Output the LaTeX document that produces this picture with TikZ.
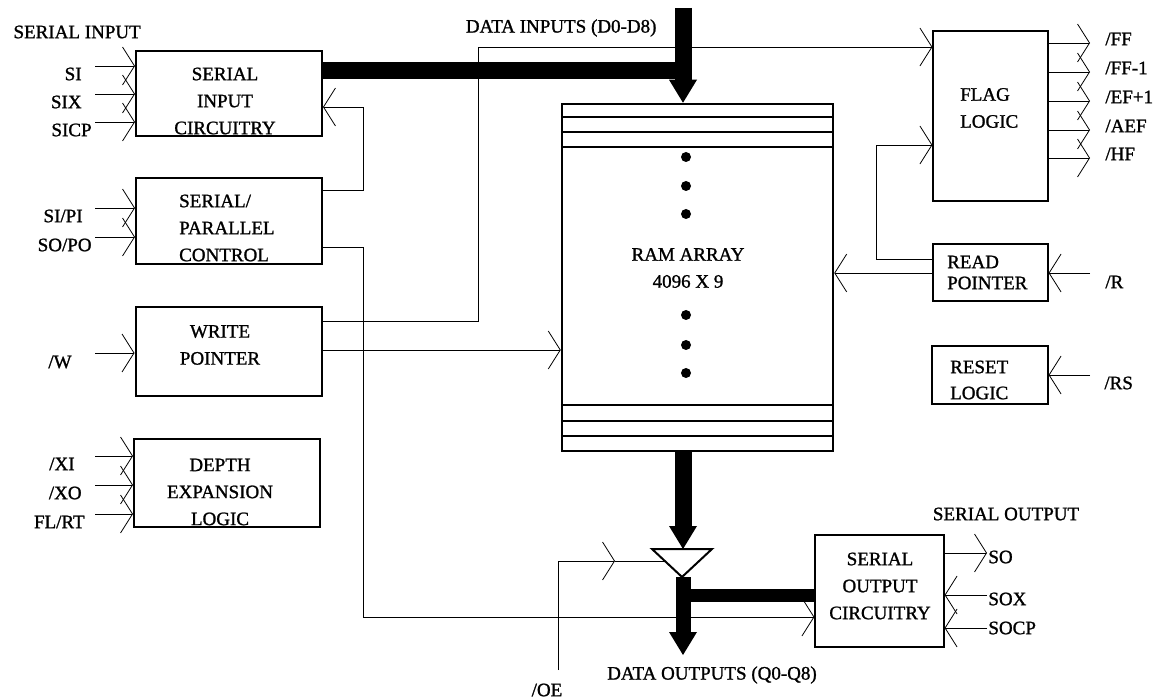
\documentclass[tikz,border=0pt]{standalone}
\usepackage{fontspec}
\setmainfont{Liberation Serif}[BoldFont=Liberation Serif,BoldFeatures={FakeBold=1.2}]
\usetikzlibrary{arrows.meta}

\begin{document}
\begin{tikzpicture}[x=1pt,y=-1pt,font=\fontsize{19}{27}\selectfont\bfseries,
  blk/.style={draw,line width=2pt,inner sep=0pt},
  fblk/.style={draw,line width=1.2pt,inner sep=0pt},
  txt/.style={align=center,inner sep=0pt},
  ltxt/.style={align=left,anchor=west,inner sep=0pt},
  plbl/.style={anchor=east,inner sep=0pt},
  wire/.style={draw,line width=0.8pt},
  pin/.style={wire,-{Straight Barb[length=12pt,width=38pt]}},
  bhead/.style={-{Triangle[length=23pt,width=28pt,line width=0pt]}}]
\useasboundingbox (0,0) rectangle (1160,700);

\node[blk,minimum width=186pt,minimum height=85pt] (sic) at (229,93.5) {};
\node[blk,minimum width=186pt,minimum height=86pt] (spc) at (229,221) {};
\node[blk,minimum width=186pt,minimum height=89pt] (wp) at (228.5,351.5) {};
\node[blk,minimum width=186pt,minimum height=88pt] (del) at (227,483) {};
\node[blk,line width=2.5pt,minimum width=271pt,minimum height=347pt] (ram) at (697.5,277.5) {};
\node[fblk,minimum width=115pt,minimum height=170pt] (flag) at (990.5,116) {};
\node[fblk,minimum width=115pt,minimum height=57pt] (rp) at (990.5,272.5) {};
\node[fblk,minimum width=116pt,minimum height=58pt] (rl) at (990,375) {};
\node[fblk,minimum width=129pt,minimum height=112pt] (soc) at (879.5,591) {};

\node[txt] (sicT) at (225,101) {SERIAL\\INPUT\\CIRCUITRY};
\node[ltxt] (spcT) at (179,228) {SERIAL/\\PARALLEL\\CONTROL};
\node[txt] (wpT) at (220,345) {WRITE\\POINTER};
\node[txt] (delT) at (220,492) {DEPTH\\EXPANSION\\LOGIC};
\node[txt] (ramT) at (688,268) {RAM ARRAY\\4096 X 9};
\node[ltxt] (flagT) at (960,108) {FLAG\\LOGIC};
\node[ltxt,font=\fontsize{19}{21}\selectfont\bfseries] (rpT) at (947,272.5) {READ\\POINTER};
\node[ltxt,font=\fontsize{19}{26}\selectfont\bfseries] (rlT) at (950,380) {RESET\\LOGIC};
\node[txt] (socT) at (880,586) {SERIAL\\OUTPUT\\CIRCUITRY};

\node[anchor=west] (serin) at (10,32) {SERIAL INPUT};
\node[anchor=east] (din) at (660,28) {DATA INPUTS (D0-D8)};
\node (serout) at (1006,514) {SERIAL OUTPUT};
\node (dout) at (712,675) {DATA OUTPUTS (Q0-Q8)};
\node (oe) at (547,690) {/OE};

\foreach \y/\ly/\ty in {117/132/147, 405/421/436}
  \foreach \r in {\y,\ly,\ty}
    \path[draw,line width=2.5pt] (ram.west |- 0,\r) -- (ram.east |- 0,\r);
\foreach \d in {157,186,214,315,345,373}
  \fill (686,\d) circle (5);

\foreach \y/\r/\t in {66/82/SI, 94/82/SIX, 122/92/SICP}
  \path[pin] (95,\y) -- (sic.west |- 0,\y) node[pos=0,plbl,xshift=\r pt-95pt,yshift=-8pt] {\t};
\foreach \y/\r/\t in {208/83/{SI/PI}, 237/92/{SO/PO}}
  \path[pin] (95,\y) -- (spc.west |- 0,\y) node[pos=0,plbl,xshift=\r pt-95pt,yshift=-8pt] {\t};
\path[pin] (95,353) -- (wp.west |- 0,353) node[pos=0,plbl,xshift=-23pt,yshift=-9pt] {/W};
\foreach \y/\r/\t in {456/75/{/XI}, 485/82/{/XO}, 514/85/{FL/RT}}
  \path[pin] (95,\y) -- (del.west |- 0,\y) node[pos=0,plbl,xshift=\r pt-95pt,yshift=-8pt] {\t};

\foreach \y/\t in {43/{/FF}, 72/{/FF-1}, 101/{/EF+1}, 130/{/AEF}, 158/{/HF}}
  \path[pin] (flag.east |- 0,\y) -- (1090,\y) node[anchor=west,inner sep=0pt,xshift=15pt,yshift=4pt] {\t};
\path[pin] (1090,273) node[anchor=west,inner sep=0pt,xshift=15pt,yshift=-9pt] {/R} -- (rp.east |- 0,273);
\path[pin] (1090,375) node[anchor=west,inner sep=0pt,xshift=14pt,yshift=-8pt] {/RS} -- (rl.east |- 0,375);
\path[pin] (soc.east |- 0,553) -- (987,553) node[anchor=west,inner sep=1pt,yshift=-4pt] {SO};
\path[pin] (987,595) node[anchor=west,inner sep=1pt,yshift=-4pt] {SOX} -- (soc.east |- 0,595);
\path[pin] (987,628) node[anchor=west,inner sep=1pt] {SOCP} -- (soc.east |- 0,628);

\path[pin] (spc.east |- 0,190) -- (363,190) |- (sic.east |- 0,107);
\path[pin] (spc.east |- 0,247) -- (363,247) |- (soc.west |- 0,617);
\path[pin] (wp.east |- 0,321) -| (478,47) -- (flag.west |- 0,47);
\path[pin] (wp.east |- 0,350) -- (ram.west |- 0,350);
\path[wire] (rp.west |- 0,259) -| (876,145);
\path[pin] (876,145) -- (flag.west |- 0,145);
\path[pin] (rp.west |- 0,273) -- (ram.east |- 0,273);

\coordinate (tl) at (652,549);
\coordinate (tr) at (712,549);
\coordinate (tb) at (682,577);
\path[draw,line width=2pt,line join=miter] (tl) -- (tr) -- (tb) -- cycle;
\path[pin] (558,670) |- (615,561);
\path[wire] (615,561) -- (666,561);

\path[draw,line width=17pt] (sic.east |- 0,71) -- (691.5,71);
\path[draw,line width=17pt,bhead] (683,8) -- (ram.north -| 683,0);
\path[draw,line width=17pt,bhead] (ram.south -| 683,0) -- (683,549);
\path[draw,line width=13pt] (683,595) -- (soc.west |- 0,595);
\path[draw,line width=15pt,bhead] (683,577) -- (683,655);
\end{tikzpicture}
\end{document}
